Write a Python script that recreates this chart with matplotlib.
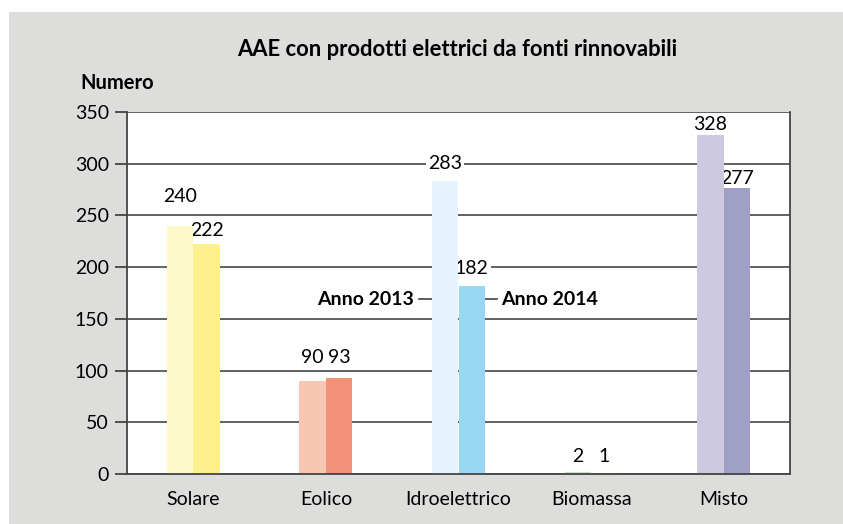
import matplotlib.pyplot as plt
from matplotlib.patches import Rectangle

categories = ["Solare", "Eolico", "Idroelettrico", "Biomassa", "Misto"]
anno_2013 = [240, 90, 283, 2, 328]
anno_2014 = [222, 93, 182, 1, 277]
colors_2013 = ["#FEF9C8", "#F9C6B2", "#E5F4FC", "#CCE5C0", "#CDC9E1"]
colors_2014 = ["#FEF18C", "#F09178", "#98D6F3", "#8CC17C", "#A09FC6"]
# label heights (data units), placed by hand like the original
label_y_2013 = [268, 113, 300, 17, 338]
label_y_2014 = [235, 113, 199, 17, 286]

plt.rcParams['font.family'] = ['Lato', 'DejaVu Sans']

fig = plt.figure(figsize=(8.43, 5.24), dpi=100)
fig.patch.set_facecolor("white")
# grey panel behind the chart (runs off the right and bottom edges)
fig.patches.append(Rectangle((9 / 843, 0), 834 / 843, 512 / 524,
                             transform=fig.transFigure, facecolor="#DDDDDC",
                             edgecolor="none", zorder=-10))

ax = fig.add_axes([127 / 843, (524 - 474) / 524, 663 / 843, 362 / 524])
ax.set_facecolor("white")

w = 0.2
x = list(range(len(categories)))
ax.bar([i - w / 2 for i in x], anno_2013, width=w, color=colors_2013, zorder=2)
ax.bar([i + w / 2 for i in x], anno_2014, width=w, color=colors_2014, zorder=2)

ax.set_xlim(-0.5, 4.5)
ax.set_ylim(0, 350)
ax.set_yticks(range(0, 351, 50))
ax.set_xticks(x)
ax.set_xticklabels(categories)
ax.yaxis.grid(True, color="#555555", linewidth=1.3, zorder=1)
ax.set_axisbelow(True)

for s in ["left", "bottom", "right"]:
    ax.spines[s].set_color("#444444")
    ax.spines[s].set_linewidth(1.3)
ax.spines["top"].set_visible(False)
ax.tick_params(axis="y", length=9, width=1.3, color="#444444", labelsize=14, pad=4)
ax.tick_params(axis="x", length=0, labelsize=14, pad=12)

# white boxes hide the grid behind the numbers; bars stay on top of the boxes
box = dict(facecolor="white", edgecolor="none", pad=1.5)
for i in x:
    ax.text(i - w / 2, label_y_2013[i], str(anno_2013[i]), ha="center", va="center",
            fontsize=14, zorder=1.5, bbox=box)
    ax.text(i + w / 2, label_y_2014[i], str(anno_2014[i]), ha="center", va="center",
            fontsize=14, zorder=1.5, bbox=box)

# series labels with leader lines
ax.plot([1.70, 1.80], [169, 169], color="#444444", lw=1.2, zorder=1.6)
ax.plot([2.20, 2.29], [169, 169], color="#444444", lw=1.2, zorder=1.6)
ax.text(1.66, 169, "Anno 2013", ha="right", va="center", fontsize=14,
        fontweight="bold", zorder=1.5, bbox=box)
ax.text(2.32, 169, "Anno 2014", ha="left", va="center", fontsize=14,
        fontweight="bold", zorder=1.5, bbox=box)

fig.text(457 / 843, 1 - 50 / 524, "AAE con prodotti elettrici da fonti rinnovabili",
         ha="center", va="center", fontsize=15.8, fontweight="bold")
fig.text(80 / 843, 1 - 83 / 524, "Numero", ha="left", va="center",
         fontsize=14.5, fontweight="bold")

plt.savefig("out.png", dpi=100)
